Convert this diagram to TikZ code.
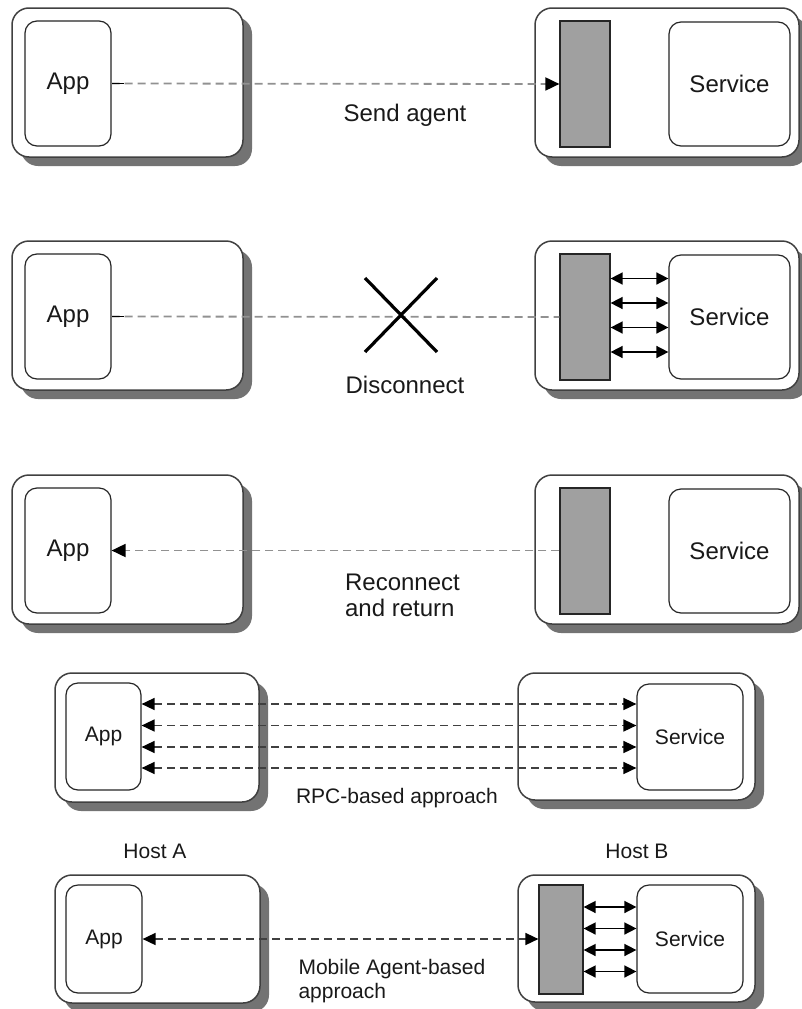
\documentclass[tikz,border=0pt]{standalone}
\usepackage{fontspec}
\setmainfont{Liberation Sans}
\usetikzlibrary{
  arrows.meta,
  positioning,
  shadows
}
\definecolor{bargray}{RGB}{160,160,160}
\definecolor{linkgray}{RGB}{145,145,145}

\tikzset{
  host/.style={draw=black!75, line width=1.5pt, rounded corners=17pt, fill=white,
    drop shadow={shadow xshift=9pt, shadow yshift=-9pt, fill=black!55, opacity=1}},
  proc/.style={draw=black!85, line width=1.2pt, rounded corners=12pt, fill=white,
    inner sep=0pt, text=black!90},
  agentbar/.style={draw=black!85, line width=1.2pt, fill=bargray, inner sep=0pt},
  bigtext/.style={font=\fontsize{24}{26}\selectfont, text=black!90},
  smalltext/.style={font=\fontsize{21}{24}\selectfont, text=black!90},
  link/.style={draw=linkgray, line width=1.8pt, dash pattern=on 8pt off 5pt},
  rpc/.style={draw=black!75, line width=1.6pt, dash pattern=on 8pt off 5pt,
    {Triangle[length=13pt, width=12pt, black]}-{Triangle[length=13pt, width=12pt, black]}},
  tie/.style={black, line width=1.5pt,
    {Triangle[length=12pt, width=12pt]}-{Triangle[length=12pt, width=12pt]}},
  tip/.style={-{Triangle[length=14pt, width=13pt, black]}}
}

\begin{document}
\begin{tikzpicture}[x=1pt, y=-1pt]
  \useasboundingbox (0,0) rectangle (802,1009);

  % send the agent over
  \node[host, minimum width=231, minimum height=149] (hostA1) at (127.5,82.5) {};
  \node[host, minimum width=264, minimum height=149] (hostB1) at (667,82.5) {};
  \node[proc, bigtext, minimum width=86, minimum height=125] (app1) at (68,83.5) {App};
  \node[agentbar, minimum width=50, minimum height=126] (bar1) at (585,84) {};
  \node[proc, bigtext, minimum width=121, minimum height=124] (svc1) at (729.5,84) {Service};
  \draw[link, tip] (app1.east) -- (bar1.west);
  \draw[black, line width=1.6pt] (app1.east) -- ++(12,0);
  \node[bigtext] (lblsend) at (405,115) {Send agent};

  % connection dropped, agent keeps working
  \node[host, minimum width=231, minimum height=149] (hostA2) at (127.5,315.5) {};
  \node[host, minimum width=264, minimum height=149] (hostB2) at (667,315.5) {};
  \node[proc, bigtext, minimum width=86, minimum height=125] (app2) at (68,316.5) {App};
  \node[agentbar, minimum width=50, minimum height=126] (bar2) at (585,317) {};
  \node[proc, bigtext, minimum width=121, minimum height=124] (svc2) at (729.5,317) {Service};
  \draw[link] (app2.east) -- (bar2.west);
  \draw[black, line width=1.6pt] (app2.east) -- ++(12,0);
  \coordinate (cut) at (401,315);
  \draw[black, line width=3.2pt] (cut) +(-36,-37) -- +(36,37);
  \draw[black, line width=3.2pt] (cut) +(36,-37) -- +(-36,37);
  \foreach \yy in {278.5,303,327.5,352}
    \draw[tie] (bar2.east |- 0,\yy) -- (svc2.west |- 0,\yy);
  \node[bigtext] (lbldrop) at (405,385) {Disconnect};

  % agent comes back with the result
  \node[host, minimum width=231, minimum height=149] (hostA3) at (127.5,549.5) {};
  \node[host, minimum width=264, minimum height=149] (hostB3) at (667,549.5) {};
  \node[proc, bigtext, minimum width=86, minimum height=125] (app3) at (68,550.5) {App};
  \node[agentbar, minimum width=50, minimum height=126] (bar3) at (585,551) {};
  \node[proc, bigtext, minimum width=121, minimum height=124] (svc3) at (729.5,551) {Service};
  \draw[link, tip] (bar3.west |- app3.east) -- (app3.east);
  \node[bigtext, align=left] (lblback) at (402.5,595) {Reconnect\\and return};

  % RPC: every call crosses the network
  \node[host, minimum width=204, minimum height=129] (hostA4) at (157,737.5) {};
  \node[host, minimum width=237, minimum height=127] (hostB4) at (636.5,736.5) {};
  \node[proc, smalltext, minimum width=75, minimum height=107] (app4) at (103.5,736.5) {App};
  \node[proc, smalltext, minimum width=106, minimum height=106] (svc4) at (690,737) {Service};
  \foreach \yy in {704,725.5,747,768}
    \draw[rpc] (app4.east |- 0,\yy) -- (svc4.west |- 0,\yy);
  \node[smalltext] (lblrpc) at (397,798) {RPC-based approach};

  \node[smalltext] (hosta) at (155,851) {Host A};
  \node[smalltext] (hostb) at (637,851) {Host B};

  % mobile agent: calls stay on host B
  \node[host, minimum width=205, minimum height=128] (hostA5) at (157.5,939) {};
  \node[host, minimum width=237, minimum height=127] (hostB5) at (636.5,938.5) {};
  \node[proc, smalltext, minimum width=76, minimum height=108] (app5) at (104,939) {App};
  \node[agentbar, minimum width=44, minimum height=109] (bar5) at (561,939.5) {};
  \node[proc, smalltext, minimum width=106, minimum height=108] (svc5) at (690,939) {Service};
  \draw[rpc] (app5.east) -- (bar5.west |- app5.east);
  \foreach \yy in {907,928.5,950,971.5}
    \draw[tie] (bar5.east |- 0,\yy) -- (svc5.west |- 0,\yy);
  \node[smalltext, align=left, anchor=west] (lblagent) at (295,981) {Mobile Agent-based\\approach};
\end{tikzpicture}
\end{document}
